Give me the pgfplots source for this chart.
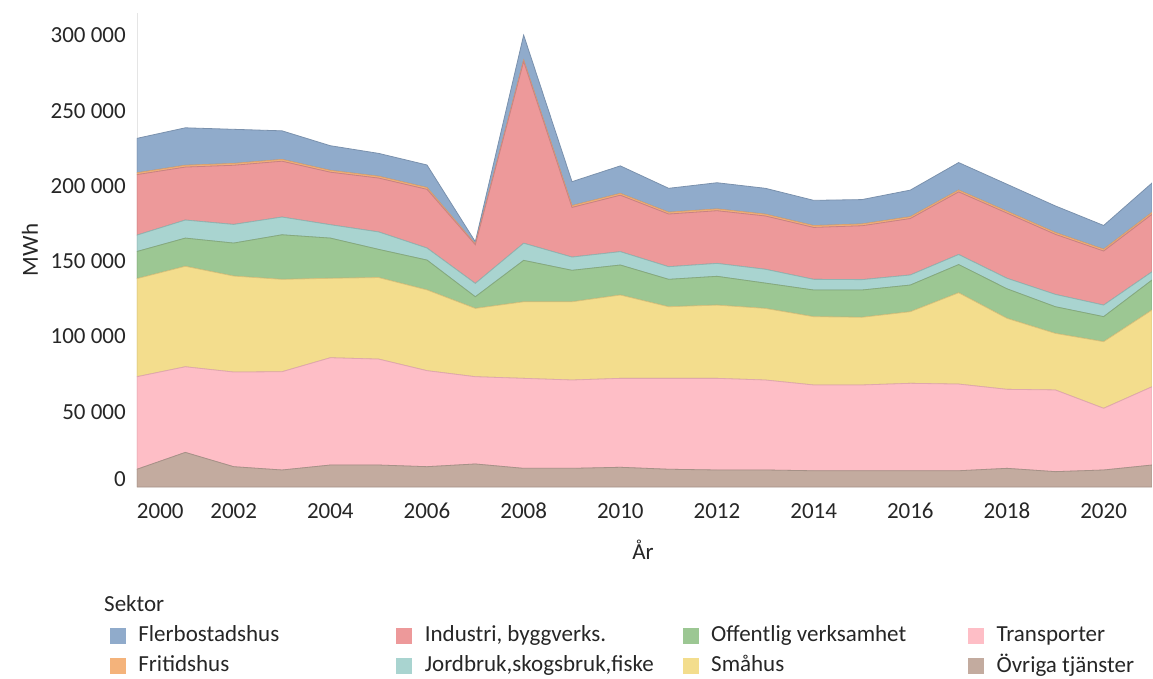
\documentclass[border=0pt]{standalone}
\usepackage{pgfplots}
\pgfplotsset{compat=1.18}
\usepackage{pgfplotstable}
\usepackage{fontspec}
\setmainfont{Carlito}

\definecolor{cFle}{HTML}{90ABCB}
\definecolor{cFri}{HTML}{F4B37B}
\definecolor{cInd}{HTML}{ED999A}
\definecolor{cJor}{HTML}{A9D4D0}
\definecolor{cOff}{HTML}{9CC793}
\definecolor{cSma}{HTML}{F3DD8D}
\definecolor{cTra}{HTML}{FEBEC6}
\definecolor{cOvr}{HTML}{C3AB9F}
\definecolor{txt}{HTML}{262626}

\pgfplotstableread{
year Ovr Tra Sma Off Jor Ind Fri Fle
2000 11800 61500 65200 18000 10900 40200 1200 22900
2001 23000 56900 66800 18700 12000 35200 1200 24900
2002 13500 62900 63800 21900 12400 39300 1200 22700
2003 11300 65300 61400 29600 11800 37100 1200 19000
2004 14600 71300 52800 26700 8900 34900 1200 16400
2005 14600 70400 54200 18700 11600 35800 1200 15200
2006 13500 63800 53700 19800 8000 39000 1200 15000
2007 15300 58000 45400 7700 8900 25700 500 1500
2008 12400 59800 50900 27500 11400 120700 1000 16600
2009 12400 58700 52000 20900 8800 33000 1200 15900
2010 13100 59100 55400 19900 8900 37500 1200 18300
2011 11800 60400 47600 18200 8400 35000 1200 15900
2012 11300 60900 48700 19100 8600 35000 1200 17400
2013 11300 59800 47600 16800 9200 35400 1200 17200
2014 10800 57000 45400 17700 7100 34500 1200 16800
2015 10800 57000 45000 18100 6900 35800 1200 16200
2016 10800 58100 47600 17700 6700 37500 1200 17700
2017 10800 57600 60700 18700 6700 41600 1200 18300
2018 12400 52500 47200 19600 7000 43300 1200 18000
2019 10200 54300 37600 17700 8200 39900 1200 17700
2020 11300 41000 44300 16600 7700 35900 1200 15800
2021 14600 52000 51000 19900 5500 38200 1200 19600
}\datatable

\begin{document}
\fontsize{23}{28}\selectfont
\color{txt}
\begin{tikzpicture}
\begin{axis}[
  at={(0pt,0pt)}, anchor=south west,
  scale only axis, width=1015pt, height=474pt,
  xmin=2000, xmax=2021, ymin=0, ymax=315000,
  scaled y ticks=false, scaled x ticks=false,
  stack plots=y,
  axis lines*=left,
  x axis line style={draw=none},
  y axis line style={draw=black!10, line width=0.8pt},
  tick style={draw=none},
  xtick={2000,2002,...,2020},
  xticklabels={\makebox[0pt][l]{2000},2002,2004,2006,2008,2010,2012,2014,2016,2018,2020},
  ytick={0,50000,100000,150000,200000,250000,300000},
  yticklabels={\raisebox{16pt}{0},50 000,100 000,150 000,200 000,250 000,300 000},
  x tick label style={anchor=north, inner sep=0pt, yshift=-16pt, text=txt},
  y tick label style={anchor=east, inner sep=0pt, xshift=-11pt, text=txt},
  legend columns=4,
  legend image code/.code={\fill[#1] (0pt,-7.5pt) rectangle (15pt,7.5pt);},
  legend style={draw=none, fill=none, inner sep=0pt, outer sep=0pt,
    at={(axis description cs:-0.0266,-0.2932)}, anchor=north west,
    row sep=9pt, column sep=0pt,
    nodes={inner sep=0pt, anchor=west, text=txt}},
  legend cell align=left,
]
\addplot[forget plot, fill=cOvr, draw=cOvr!85!black, line width=0.8pt] table[x=year,y=Ovr]{\datatable} \closedcycle;
\addplot[forget plot, fill=cTra, draw=cTra!88!black, line width=0.8pt] table[x=year,y=Tra]{\datatable} \closedcycle;
\addplot[forget plot, fill=cSma, draw=cSma!88!black, line width=0.8pt] table[x=year,y=Sma]{\datatable} \closedcycle;
\addplot[forget plot, fill=cOff, draw=cOff!85!black, line width=0.8pt] table[x=year,y=Off]{\datatable} \closedcycle;
\addplot[forget plot, fill=cJor, draw=cJor!85!black, line width=0.8pt] table[x=year,y=Jor]{\datatable} \closedcycle;
\addplot[forget plot, fill=cInd, draw=cInd!85!black, line width=0.8pt] table[x=year,y=Ind]{\datatable} \closedcycle;
\addplot[forget plot, fill=cFri, draw=cFri!90!black, line width=0.8pt] table[x=year,y=Fri]{\datatable} \closedcycle;
\addplot[forget plot, fill=cFle, draw=cFle!85!black, line width=0.8pt] table[x=year,y=Fle]{\datatable} \closedcycle;

\addlegendimage{cFle}
\addlegendimage{cInd}
\addlegendimage{cOff}
\addlegendimage{cTra}
\addlegendimage{cFri}
\addlegendimage{cJor}
\addlegendimage{cSma}
\addlegendimage{cOvr}
\legend{
  \makebox[271pt][l]{\hspace{13pt}Flerbostadshus},
  \makebox[271pt][l]{\hspace{13pt}Industri, byggverks.},
  \makebox[270pt][l]{\hspace{13pt}Offentlig verksamhet},
  \makebox[150pt][l]{\hspace{13pt}Transporter},
  \makebox[271pt][l]{\hspace{13pt}Fritidshus},
  \makebox[271pt][l]{\hspace{13pt}Jordbruk,skogsbruk,fiske},
  \makebox[270pt][l]{\hspace{13pt}Småhus},
  \makebox[150pt][l]{\hspace{13pt}Övriga tjänster}}
\end{axis}
\node[anchor=center, inner sep=0pt, text=txt] at (506pt,-63pt) {År};
\node[anchor=center, inner sep=0pt, text=txt, rotate=90] at (-107pt,237pt) {MWh};
\node[anchor=west, inner sep=0pt, text=txt] at (-33pt,-117pt) {Sektor};
\pgfresetboundingbox
\path[use as bounding box] (-137pt,-191pt) rectangle (1016pt,487pt);
\end{tikzpicture}
\end{document}
